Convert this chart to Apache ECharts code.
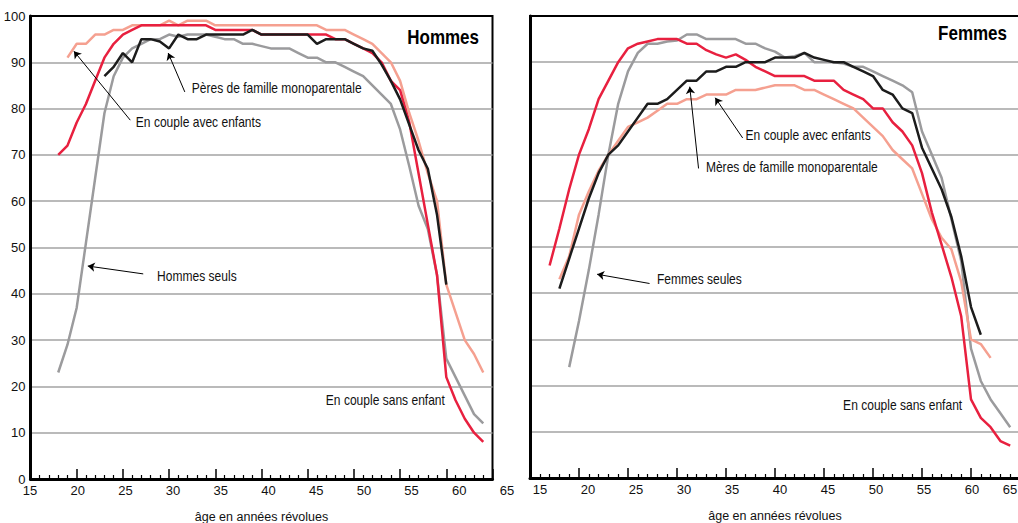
<!DOCTYPE html>
<html>
<head>
<meta charset="utf-8">
<title>Taux d'activité selon l'âge et le type de ménage</title>
<script src="https://cdn.jsdelivr.net/npm/echarts@6/dist/echarts.min.js"></script>
<style>
  html, body { margin: 0; padding: 0; background: #fff; }
  #chart { width: 1018px; height: 523px; }
</style>
</head>
<body>
<div id="chart"></div>
<script>
// graduations
var xTicks = [15, 20, 25, 30, 35, 40, 45, 50, 55, 60, 65];
var yTicks = [0, 10, 20, 30, 40, 50, 60, 70, 80, 90, 100];

// Hommes : une valeur par année à partir de l'âge de départ
var hSansEnfantStart = 18;
var hSansEnfant = [70, 72, 77, 81, 86, 91, 94, 96, 97, 98,
  98, 98, 98, 98, 98, 98, 98, 97, 97, 97,
  97, 97, 96, 96, 96, 96, 96, 96, 96, 96,
  95, 95, 94, 93, 92, 90, 86, 84, 77, 66,
  55, 44, 22, 17, 13, 10, 8];
var hAvecEnfantsStart = 19;
var hAvecEnfants = [91, 94, 94, 96, 96, 97, 97, 98, 98, 98,
  98, 99, 98, 99, 99, 99, 98, 98, 98, 98,
  98, 98, 98, 98, 98, 98, 98, 98, 97, 97,
  97, 96, 95, 94, 92, 90, 86, 79, 73, 66,
  60, 42, 36, 30, 27, 23];
var hPeresStart = 23;
var hPeres = [87, 89, 92, 90, 95, 95, 94.5, 93, 96, 95,
  95, 96, 96, 96, 96, 96, 97, 96, 96, 96,
  96, 96, 96, 94, 95, 95, 95, 94, 93, 92.5,
  89.5, 86, 82, 76.5, 71, 67, 57, 42];
var hSeulsStart = 18;
var hSeuls = [23, 29, 37, 51, 65, 79, 87, 91, 93, 94,
  95, 95, 96, 95.5, 96, 96, 96, 95.5, 95, 95,
  94, 94, 93.5, 93, 93, 93, 92, 91, 91, 90,
  90, 89, 88, 87, 85, 83, 81, 75.5, 67.5, 59,
  54, 44, 26, 22, 18, 14, 12];

// Femmes
var fSansEnfantStart = 17;
var fSansEnfant = [46, 54, 62.5, 70, 75.5, 82, 86, 90, 93, 94,
  94.5, 95, 95, 95, 94, 94, 92.6, 91.7, 91, 91.7,
  90.5, 89, 88, 87, 87, 87, 87, 86, 86, 86,
  84, 83, 82, 80, 80, 77, 75, 72, 66, 57.5,
  50.5, 43.5, 35, 17, 13, 11, 8, 7];
var fAvecEnfantsStart = 18;
var fAvecEnfants = [43, 48, 57, 62, 66.5, 70, 73, 76, 77, 78,
  79.5, 81, 81, 82, 82, 83, 83, 83, 84, 84,
  84, 84.5, 85, 85, 85, 84, 84, 83, 82, 81,
  80, 78, 76, 74, 71, 69, 67, 61.5, 56, 52,
  49.5, 42.5, 30, 29, 26];
var fMeresStart = 18;
var fMeres = [41, 47.5, 54, 60.5, 66, 70, 72, 75, 78, 81,
  81, 82, 84, 86, 86, 88, 88, 89, 89, 90,
  90, 90, 91, 91, 91, 92, 91, 90.5, 90, 90,
  89, 88, 87, 84, 83, 80, 79, 71.5, 67, 62.5,
  56.5, 48, 37, 31];
var fSeulesStart = 19;
var fSeules = [24, 34, 45, 57, 70, 81, 88, 92, 94, 94,
  94.5, 94.7, 96, 96, 95, 95, 95, 95, 94, 94,
  93, 92.3, 91, 91.3, 92, 90, 90, 90, 89.7, 89,
  89, 88, 87, 86, 85, 83.5, 75, 70, 65, 56,
  47, 28, 21, 17, 14, 11];

var RED = '#e8203f', PINK = '#f5a090', BLACK = '#1c1c1c', GRAY = '#9b9b9d';
var FONT = "'Liberation Sans', Arial, Helvetica, sans-serif";
var NARROW = 0.86; // le texte de l'original est en Helvetica étroite

function pairs(start, vals) {
  return vals.map(function (v, i) { return [start + i, v]; });
}

// petits décalages des libellés de l'axe des âges (comme sur l'original)
function labelRich(shift) {
  var rich = {};
  for (var k = 0; k < xTicks.length; k++) {
    var d = shift(k);
    rich['o' + k] = {
      fontFamily: FONT, fontSize: 13, color: '#111',
      padding: d >= 0 ? [0, 0, 0, 2 * d] : [0, -2 * d, 0, 0]
    };
  }
  return rich;
}
function labelFmt(v) {
  var k = xTicks.indexOf(v);
  return '{o' + k + '|' + v + '}';
}

function xAxisFor(gridIndex, shift) {
  return {
    type: 'value', gridIndex: gridIndex,
    min: xTicks[0], max: xTicks[xTicks.length - 1], interval: xTicks[1] - xTicks[0],
    name: 'âge en années révolues', nameLocation: 'middle', nameGap: 31,
    nameTextStyle: { fontFamily: FONT, fontSize: 12.5, color: '#111' },
    axisLine: { lineStyle: { color: '#000', width: 3 } },
    axisTick: { inside: true, length: 10, lineStyle: { color: '#000', width: 1.5 } },
    minorTick: { show: true, splitNumber: 5, length: 4, lineStyle: { color: '#000', width: 1.2 } },
    axisLabel: { margin: 5, formatter: labelFmt, rich: labelRich(shift), showMaxLabel: true },
    splitLine: { show: false }
  };
}
function yAxisFor(gridIndex, showLabels) {
  return {
    type: 'value', gridIndex: gridIndex,
    min: yTicks[0], max: yTicks[yTicks.length - 1], interval: yTicks[1] - yTicks[0],
    axisLine: { show: true, lineStyle: { color: '#000', width: 3 } },
    axisTick: { show: false },
    axisLabel: { show: showLabels, margin: 5, fontFamily: FONT, fontSize: 13, color: '#111' },
    splitLine: { show: true, showMinLine: false, showMaxLine: false, lineStyle: { color: '#a3a3a3', width: 1.5 } }
  };
}

function line(name, idx, start, vals, color, extra) {
  var s = {
    name: name, type: 'line', xAxisIndex: idx, yAxisIndex: idx,
    data: pairs(start, vals), symbol: 'none', silent: true,
    lineStyle: { color: color, width: 2.5 }, itemStyle: { color: color }
  };
  if (extra) s.markLine = extra;
  return s;
}
function arrows(list) {
  return {
    silent: true, symbol: ['none', 'arrow'], symbolSize: 7,
    label: { show: false },
    lineStyle: { color: '#000', width: 1, type: 'solid' },
    emphasis: { disabled: true },
    data: list.map(function (a) { return [{ coord: a[0] }, { coord: a[1] }]; })
  };
}

// flèches des annotations (origine -> pointe), en coordonnées âge / valeur
var arrowsH = [[[31.7, 83.6], [29.9, 92.0]], [[25.8, 77.5], [19.7, 92.4]], [[27.2, 44.3], [21.2, 46.0]]];
var arrowsF = [[[36.7, 73.6], [33.9, 82.3]], [[32.2, 67.0], [31.3, 84.7]], [[27.2, 42.1], [21.85, 44.1]]];

var notes = [
  { g: 0, text: 'Pères de famille monoparentale', at: [32.45, 84.4], align: 'left' },
  { g: 0, text: 'En couple avec enfants', at: [26.4, 77.1], align: 'left' },
  { g: 0, text: 'Hommes seuls', at: [28.7, 43.8], align: 'left' },
  { g: 0, text: 'En couple sans enfant', at: [59.85, 17.1], align: 'right' },
  { g: 1, text: 'En couple avec enfants', at: [37.0, 74.1], align: 'left' },
  { g: 1, text: 'Mères de famille monoparentale', at: [32.95, 67.2], align: 'left' },
  { g: 1, text: 'Femmes seules', at: [27.95, 43.0], align: 'left' },
  { g: 1, text: 'En couple sans enfant', at: [59.1, 15.8], align: 'right' }
];

var chart = echarts.init(document.getElementById('chart'), null, { renderer: 'svg' });
chart.setOption({
  animation: false,
  backgroundColor: '#fff',
  grid: [
    { left: 30.5, top: 16, width: 462, height: 463, outerBoundsMode: 'none', containLabel: false,
      show: true, borderColor: '#000', borderWidth: 2 },
    { left: 530, top: 16, width: 490, height: 462, outerBoundsMode: 'none', containLabel: false,
      show: true, borderColor: '#000', borderWidth: 2 }
  ],
  xAxis: [
    xAxisFor(0, function (k) { return -0.5 + 1.5 * k; }),
    xAxisFor(1, function (k) { return k === 10 ? -10 : 10 - k; })
  ],
  yAxis: [yAxisFor(0, true), yAxisFor(1, false)],
  series: [
    line('Hommes seuls', 0, hSeulsStart, hSeuls, GRAY),
    line('En couple avec enfants', 0, hAvecEnfantsStart, hAvecEnfants, PINK),
    line('En couple sans enfant', 0, hSansEnfantStart, hSansEnfant, RED),
    line('Pères de famille monoparentale', 0, hPeresStart, hPeres, BLACK, arrows(arrowsH)),
    line('Femmes seules', 1, fSeulesStart, fSeules, GRAY),
    line('En couple avec enfants', 1, fAvecEnfantsStart, fAvecEnfants, PINK),
    line('En couple sans enfant', 1, fSansEnfantStart, fSansEnfant, RED),
    line('Mères de famille monoparentale', 1, fMeresStart, fMeres, BLACK, arrows(arrowsF))
  ]
});

var graphics = notes.map(function (n) {
  var p = chart.convertToPixel({ gridIndex: n.g }, n.at);
  return {
    type: 'text', x: p[0], y: p[1], scaleX: NARROW, silent: true,
    style: { text: n.text, fill: '#111', font: '14px ' + FONT, align: n.align, verticalAlign: 'middle' }
  };
});
graphics.push(
  { type: 'text', x: 479, y: 37, scaleX: 0.85, silent: true,
    style: { text: 'Hommes', fill: '#000', font: 'bold 20px ' + FONT, align: 'right', verticalAlign: 'middle' } },
  { type: 'text', x: 1007, y: 33, scaleX: 0.85, silent: true,
    style: { text: 'Femmes', fill: '#000', font: 'bold 20px ' + FONT, align: 'right', verticalAlign: 'middle' } }
);
chart.setOption({ graphic: graphics });
</script>
</body>
</html>
